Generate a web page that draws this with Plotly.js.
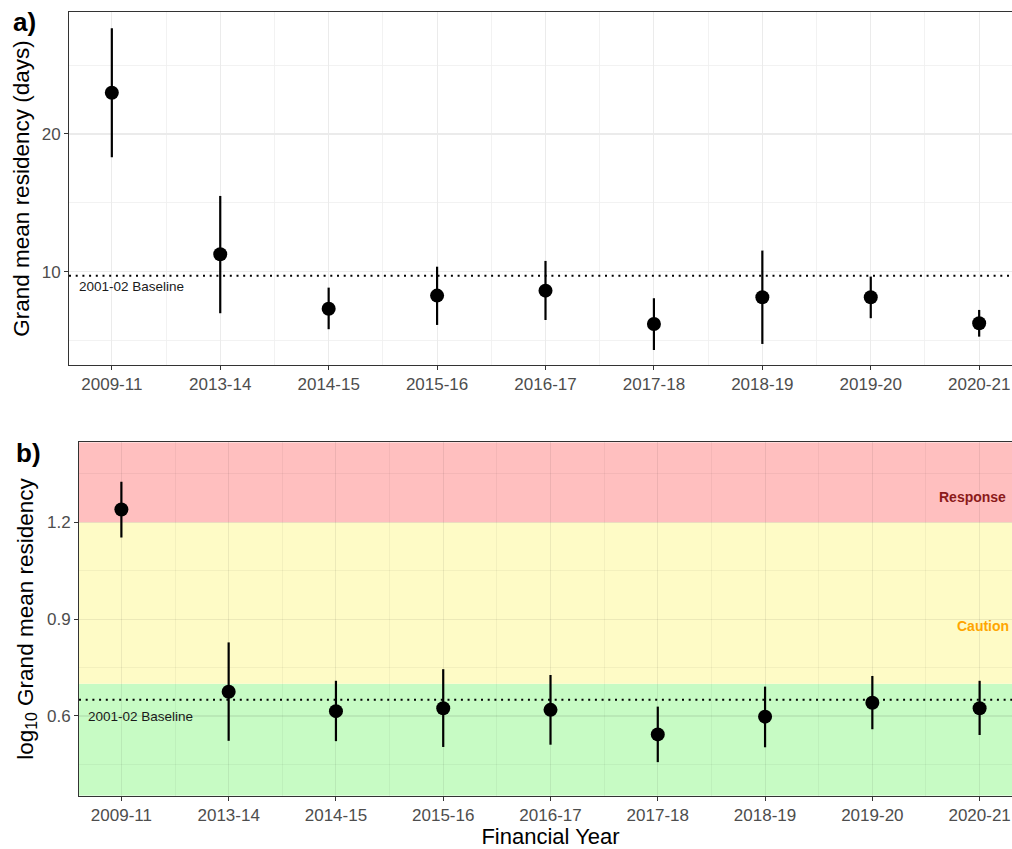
<!DOCTYPE html>
<html>
<head>
<meta charset="utf-8">
<script src="https://cdn.plot.ly/plotly-3.0.1.min.js"></script>
<style>
  html, body { margin: 0; padding: 0; background: #ffffff; overflow: hidden; }
  #chart { width: 1022px; height: 849px; }
</style>
</head>
<body>
<div id="chart"></div>
<script>
// ---- data ----
const categories = ['2009-11','2013-14','2014-15','2015-16','2016-17','2017-18','2018-19','2019-20','2020-21'];

// panel a: grand mean residency (days)
const meanA  = [23.0, 11.26, 7.31, 8.26, 8.62, 6.20, 8.14, 8.14, 6.25];
const upperA = [27.68, 15.50, 8.84, 10.36, 10.78, 8.07, 11.53, 9.64, 7.22];
const lowerA = [18.31, 6.98, 5.82, 6.13, 6.49, 4.31, 4.75, 6.62, 5.28];
const baselineA = 9.7;

// panel b: log10 grand mean residency
const meanB  = [1.240, 0.675, 0.615, 0.624, 0.619, 0.543, 0.598, 0.641, 0.624];
const upperB = [1.326, 0.828, 0.709, 0.745, 0.727, 0.629, 0.691, 0.724, 0.709];
const lowerB = [1.153, 0.523, 0.522, 0.504, 0.511, 0.457, 0.503, 0.559, 0.541];
const baselineB = 0.65;
const cautionLevel = 0.7;
const responseLevel = 1.2;

const yTicksA = [10, 20];
const yTicksB = [0.6, 0.9, 1.2];
const baselineLabel = '2001-02 Baseline';

// ---- build ----
const W = 1022, H = 849;
const xIdx = categories.map((c, i) => i);
const xRange = [-0.395, categories.length - 1 + 0.395];
const yRangeA = [3.22, 28.86];
const yRangeB = [0.353, 1.448];

const FONT = 'Liberation Sans, Arial, Helvetica, sans-serif';
const tickFont = {family: FONT, size: 17, color: '#4D4D4D'};

function pointTrace(mean, upper, lower, xa, ya) {
  return {
    type: 'scatter', mode: 'markers',
    x: xIdx, y: mean, xaxis: xa, yaxis: ya,
    marker: {color: '#000000', size: 14},
    error_y: {
      type: 'data', symmetric: false,
      array: upper.map((u, i) => u - mean[i]),
      arrayminus: lower.map((l, i) => mean[i] - l),
      color: '#000000', thickness: 2.2, width: 0
    },
    hoverinfo: 'skip', showlegend: false
  };
}

const traces = [
  pointTrace(meanA, upperA, lowerA, 'x', 'y'),
  pointTrace(meanB, upperB, lowerB, 'x2', 'y2')
];

function xAxis(domain, anchor, grid, minorGrid) {
  return {
    domain: domain, anchor: anchor, range: xRange,
    tickmode: 'array', tickvals: xIdx, ticktext: categories,
    tickfont: tickFont, ticks: 'outside', ticklen: 4, tickwidth: 1, tickcolor: '#333333',
    showgrid: true, gridcolor: grid, gridwidth: 1.1,
    minor: {tickmode: 'linear', tick0: 0.5, dtick: 1, showgrid: true, gridcolor: minorGrid, gridwidth: 0.8, ticks: ''},
    showline: true, linecolor: '#333333', linewidth: 1, mirror: true,
    zeroline: false, fixedrange: true
  };
}
function yAxis(domain, anchor, range, tickvals, minor0, minorD, grid, minorGrid, title, standoff) {
  return {
    domain: domain, anchor: anchor, range: range,
    tickmode: 'array', tickvals: tickvals,
    tickfont: tickFont, ticks: 'outside', ticklen: 4, tickwidth: 1, tickcolor: '#333333',
    showgrid: true, gridcolor: grid, gridwidth: 1.1,
    minor: {tickmode: 'linear', tick0: minor0, dtick: minorD, showgrid: true, gridcolor: minorGrid, gridwidth: 0.8, ticks: ''},
    showline: true, linecolor: '#333333', linewidth: 1, mirror: true,
    zeroline: false, fixedrange: true,
    title: {text: title, font: {family: FONT, size: 22.5, color: '#000000'}, standoff: standoff}
  };
}

const layout = {
  width: W, height: H,
  margin: {l: 0, r: 0, t: 0, b: 0},
  paper_bgcolor: '#ffffff', plot_bgcolor: '#ffffff',
  showlegend: false,
  xaxis: xAxis([69 / W, 1], 'y', '#EBEBEB', '#EFEFEF'),
  yaxis: yAxis([1 - 365 / H, 1 - 12 / H], 'x', yRangeA, yTicksA, 5, 10, '#EBEBEB', '#EFEFEF',
               'Grand mean residency (days)', 5),
  xaxis2: Object.assign(xAxis([79 / W, 1], 'y2', 'rgba(0,0,0,0.07)', 'rgba(0,0,0,0.055)'), {
    title: {text: 'Financial Year', font: {family: FONT, size: 22, color: '#000000'}, standoff: 3}
  }),
  yaxis2: yAxis([1 - 795.7 / H, 1 - 442.3 / H], 'x2', yRangeB, yTicksB, 0.45, 0.3,
                'rgba(0,0,0,0.07)', 'rgba(0,0,0,0.055)',
                'log<sub>10</sub> Grand mean residency', 7),
  shapes: [
    {type: 'rect', layer: 'below', xref: 'x2 domain', yref: 'y2', x0: 0, x1: 1,
     y0: yRangeB[0], y1: cautionLevel, fillcolor: '#C7FBC4', line: {width: 0}},
    {type: 'rect', layer: 'below', xref: 'x2 domain', yref: 'y2', x0: 0, x1: 1,
     y0: cautionLevel, y1: responseLevel, fillcolor: '#FEFBC6', line: {width: 0}},
    {type: 'rect', layer: 'below', xref: 'x2 domain', yref: 'y2', x0: 0, x1: 1,
     y0: responseLevel, y1: yRangeB[1], fillcolor: '#FFBFBF', line: {width: 0}},
    {type: 'line', layer: 'above', xref: 'x domain', yref: 'y', x0: 0, x1: 1,
     y0: baselineA, y1: baselineA, line: {color: '#000000', width: 2, dash: '2px,4.7px'}},
    {type: 'line', layer: 'above', xref: 'x2 domain', yref: 'y2', x0: 0, x1: 1,
     y0: baselineB, y1: baselineB, line: {color: '#000000', width: 2, dash: '2px,4.7px'}}
  ],
  annotations: [
    {text: baselineLabel, xref: 'x domain', yref: 'y', x: 0, y: baselineA,
     xanchor: 'left', yanchor: 'middle', xshift: 8, yshift: -11, showarrow: false,
     font: {family: FONT, size: 13.5, color: '#1a1a1a'}},
    {text: baselineLabel, xref: 'x2 domain', yref: 'y2', x: 0, y: baselineB,
     xanchor: 'left', yanchor: 'middle', xshift: 7, yshift: -17, showarrow: false,
     font: {family: FONT, size: 13.5, color: '#1a1a1a'}},
    {text: '<b>Response</b>', xref: 'paper', yref: 'y2', x: 1008 / W, y: 1.279,
     xanchor: 'right', yanchor: 'middle', showarrow: false,
     font: {family: FONT, size: 14, color: '#8B1A1A'}},
    {text: '<b>Caution</b>', xref: 'paper', yref: 'y2', x: 1011 / W, y: 0.878,
     xanchor: 'right', yanchor: 'middle', showarrow: false,
     font: {family: FONT, size: 14, color: '#FFA500'}},
    {text: '<b>a)</b>', xref: 'paper', yref: 'paper', x: 11 / W, y: 1 - 22 / H,
     xanchor: 'left', yanchor: 'middle', showarrow: false,
     font: {family: FONT, size: 26, color: '#000000'}},
    {text: '<b>b)</b>', xref: 'paper', yref: 'paper', x: 14 / W, y: 1 - 453 / H,
     xanchor: 'left', yanchor: 'middle', showarrow: false,
     font: {family: FONT, size: 26, color: '#000000'}}
  ]
};

Plotly.newPlot('chart', traces, layout, {staticPlot: true, displayModeBar: false, responsive: false});
</script>
</body>
</html>
